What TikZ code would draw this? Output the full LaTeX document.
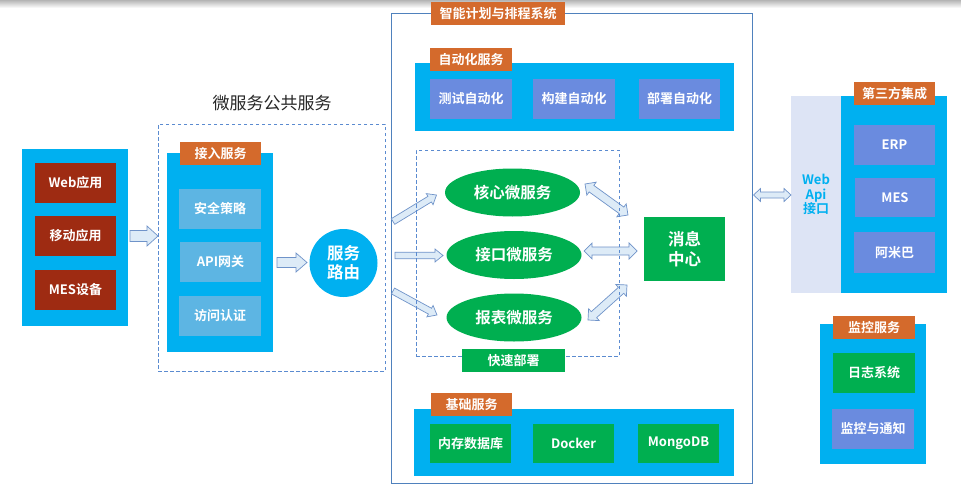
\documentclass[tikz,border=0pt]{standalone}
\usepackage{fontspec}
\setmainfont{Noto Sans CJK SC}[BoldFont={Noto Sans CJK SC Bold}]
\usetikzlibrary{calc,shapes.geometric}
\definecolor{cblue}{HTML}{00B0F0}
\definecolor{cred}{HTML}{9E2B12}
\definecolor{corange}{HTML}{D46A2C}
\definecolor{clight}{HTML}{5DB5E3}
\definecolor{cpurple}{HTML}{6A8BDF}
\definecolor{cgreen}{HTML}{00AF50}
\definecolor{cframe}{HTML}{4F81BD}
\definecolor{cdash}{HTML}{5B8BD0}
\definecolor{cpale}{HTML}{DDE4F5}
\definecolor{arrfill}{HTML}{DDEBF7}
\definecolor{arrdraw}{HTML}{6F93C9}
\tikzset{
  sz/.style 2 args={minimum width=#1pt, minimum height=#2pt},
  base/.style={inner sep=0pt, outer sep=0pt, draw=none, align=center},
  panel/.style={base, fill=cblue},
  tag/.style={base, fill=corange, text=white, font=\bfseries\fontsize{13}{15}\selectfont},
  item/.style={base, text=white, font=\bfseries\fontsize{13}{15}\selectfont},
  redbox/.style={item, fill=cred},
  lightbox/.style={item, fill=clight},
  purplebox/.style={item, fill=cpurple},
  greenbox/.style={item, fill=cgreen},
  ell/.style={base, ellipse, fill=cgreen, text=white, font=\bfseries\fontsize{15.5}{18}\selectfont},
  dashbox/.style={draw=cdash, dashed, dash pattern=on 3.5pt off 2.5pt, line width=0.8pt},
  arrowbox/.style={fill=arrfill, draw=arrdraw, line width=0.7pt, line join=miter},
}
% single block arrow: from, to, half body, half head, head length
\newcommand\blkarrow[5]{%
  \coordinate (hB) at ($(#2)!#5!(#1)$);
  \draw[arrowbox] ($(#1)!#3!90:(#2)$) -- ($(hB)!#3!90:(#2)$) -- ($(hB)!#4!90:(#2)$) -- (#2)
     -- ($(hB)!#4!-90:(#2)$) -- ($(hB)!#3!-90:(#2)$) -- ($(#1)!#3!-90:(#2)$) -- cycle;}
% double block arrow
\newcommand\dblarrow[5]{%
  \coordinate (hA) at ($(#1)!#5!(#2)$);
  \coordinate (hB) at ($(#2)!#5!(#1)$);
  \draw[arrowbox] (#1) -- ($(hA)!#4!90:(#2)$) -- ($(hA)!#3!90:(#2)$) -- ($(hB)!#3!90:(#2)$)
     -- ($(hB)!#4!90:(#2)$) -- (#2) -- ($(hB)!#4!-90:(#2)$) -- ($(hB)!#3!-90:(#2)$)
     -- ($(hA)!#3!-90:(#2)$) -- ($(hA)!#4!-90:(#2)$) -- cycle;}
\begin{document}
\begin{tikzpicture}[x=1pt, y=-1pt]
\useasboundingbox (0,0) rectangle (961,503);
\fill[white] (0,0) rectangle (961,503);
\shade[top color=gray!55, bottom color=white, draw=none] (0,0.5) rectangle (961,8);

% ---------- clients ----------
\node[panel, sz={106}{177}] (clients) at (75,237.5) {};
\node[redbox, sz={81}{40}] (web) at (75.5,183) {Web应用};
\node[redbox, sz={81}{40}] (mobile) at (75.5,236) {移动应用};
\node[redbox, sz={81}{40}] (mesdev) at (75.5,290) {MES设备};

% ---------- public services ----------
\node[base, font=\fontsize{17}{20}\selectfont, text=black!85] (pubtitle) at (272,103) {微服务公共服务};
\node[base, dashbox, sz={227}{247}] (pubbox) at (271.5,247.5) {};
\node[panel, sz={106}{199}] (jieru) at (220,252.5) {};
\node[tag, sz={81}{23}] (jierutag) at (220.5,153.5) {接入服务};
\node[lightbox, sz={82}{40}] (sec) at (220,209) {安全策略};
\node[lightbox, sz={81}{40}] (api) at (220.5,262) {API网关};
\node[lightbox, sz={82}{40}] (auth) at (220,316) {访问认证};
\node[base, circle, fill=cblue, minimum size=68pt, text=white,
      font=\bfseries\fontsize{16.5}{19}\selectfont] (router) at (343.5,263) {服务\\路由};

\coordinate (a1s) at ($(clients.east)+(2,-1.5)$);
\coordinate (a1e) at (a1s -| pubbox.west);
\blkarrow{a1s}{a1e}{5.5pt}{10pt}{11pt}
\coordinate (a2e) at ($(router.west)+(-2.5,-0.5)$);
\coordinate (a2s) at ($(jieru.east |- a2e)+(4,0)$);
\blkarrow{a2s}{a2e}{5pt}{9.5pt}{11pt}

% ---------- main system ----------
\node[base, draw=cframe, line width=1pt, sz={361}{469}] (sys) at (571.5,248.5) {};
\node[tag, sz={134}{23}] (systag) at (498,13.5) {智能计划与排程系统};

\node[panel, sz={319}{68}] (auto) at (574.5,97) {};
\node[tag, sz={82}{23}] (autotag) at (471,59.5) {自动化服务};
\node[purplebox, sz={82}{40}] (test) at (471,99) {测试自动化};
\node[purplebox, sz={82}{40}] (build) at (574,99) {构建自动化};
\node[purplebox, sz={81}{40}] (deploy) at (679.5,99) {部署自动化};

\node[ell, minimum width=135pt, minimum height=48pt] (core) at (512.5,192.5) {核心微服务};
\node[ell, minimum width=135pt, minimum height=48pt] (intf) at (514,255) {接口微服务};
\node[ell, minimum width=135pt, minimum height=48pt] (report) at (514,317.5) {报表微服务};
\node[greenbox, sz={81}{64}, font=\bfseries\fontsize{16.5}{20}\selectfont] (msg) at (684.5,249) {消息\\中心};

% arrows router -> services
\coordinate (r1s) at ($(router.east)+(15.5,-41.5)$);
\coordinate (r1e) at ($(core.west)+(-8.5,2.5)$);
\blkarrow{r1s}{r1e}{3.3pt}{6.5pt}{8pt}
\coordinate (r2s) at ($(router.east)+(17.5,-7.5)$);
\coordinate (r2e) at ($(intf.west)+(-3.5,0.5)$);
\blkarrow{r2s}{r2e}{3.3pt}{6.5pt}{8pt}
\coordinate (r3s) at ($(router.east)+(15.5,28)$);
\coordinate (r3e) at ($(report.west)+(-9.5,-2.5)$);
\blkarrow{r3s}{r3e}{3.3pt}{6.5pt}{8pt}

% double arrows services <-> message center
\coordinate (m1s) at ($(core.east)+(5,-8.5)$);
\coordinate (m1e) at ($(msg.west)+(-16,-34)$);
\dblarrow{m1s}{m1e}{4pt}{8pt}{8pt}
\coordinate (m2s) at ($(intf.east)+(2.5,-4)$);
\coordinate (m2e) at ($(msg.west)+(-7,2)$);
\dblarrow{m2s}{m2e}{4pt}{8pt}{8pt}
\coordinate (m3s) at ($(report.east)+(6.5,2.5)$);
\coordinate (m3e) at ($(msg.west)+(-17,36)$);
\dblarrow{m3s}{m3e}{4pt}{8pt}{8pt}

\node[base, dashbox, sz={203}{206}] (fastbox) at (517.5,253) {};
\node[greenbox, sz={103}{23}] (fast) at (513.5,360.5) {快速部署};

\node[panel, sz={320}{67}] (basic) at (574,442.5) {};
\node[tag, sz={81}{23}] (basictag) at (471.5,404.5) {基础服务};
\node[greenbox, sz={81}{39}] (memdb) at (470.5,443.5) {内存数据库};
\node[greenbox, sz={81}{39}] (docker) at (573.5,443.5) {Docker};
\node[greenbox, sz={81}{39}] (mongo) at (678.5,443.5) {MongoDB};

% ---------- third party ----------
\node[base, fill=cpale, sz={50}{197}, text=cblue, font=\bfseries\fontsize{13}{14.5}\selectfont] (webapi) at (816,194.5) {Web\\Api\\接口};
\node[panel, sz={106}{197}] (third) at (894,194.5) {};
\node[tag, sz={81}{23}] (thirdtag) at (894.5,93.5) {第三方集成};
\node[purplebox, sz={81}{40}] (erp) at (894.5,145) {ERP};
\node[purplebox, sz={80}{39}] (mes) at (895,197.5) {MES};
\node[purplebox, sz={81}{41}] (amiba) at (894.5,252.5) {阿米巴};

\coordinate (w1s) at ($(sys.east)+(1.5,-53.5)$);
\coordinate (w1e) at (w1s -| webapi.west);
\dblarrow{w1s}{w1e}{3pt}{6.5pt}{7pt}

% ---------- monitoring ----------
\node[panel, sz={106}{140}] (mon) at (873,394) {};
\node[tag, sz={82}{23}] (montag) at (874,327.5) {监控服务};
\node[greenbox, sz={82}{40}] (log) at (874,373) {日志系统};
\node[purplebox, sz={82}{40}] (notify) at (873,429) {监控与通知};
\end{tikzpicture}
\end{document}
